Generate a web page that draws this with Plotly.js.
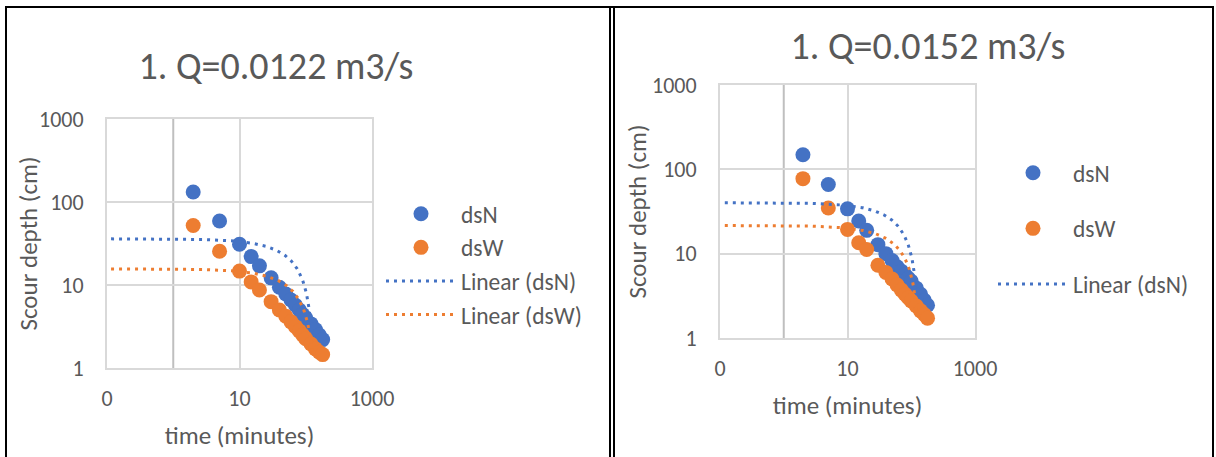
<!DOCTYPE html>
<html><head><meta charset="utf-8">
<script src="https://cdn.plot.ly/plotly-3.0.1.min.js"></script>
<style>
html,body{margin:0;padding:0;background:#fff;width:1216px;height:457px;overflow:hidden}
.chart{position:absolute;top:0;width:608px;height:457px}
.b{position:absolute;background:#000;pointer-events:none}
</style></head><body>
<div id="c1" class="chart" style="left:0"></div>
<div id="c2" class="chart" style="left:608px"></div>
<div class="b" style="left:5px;top:6px;width:1209px;height:2px"></div>
<div class="b" style="left:5px;top:6px;width:2px;height:451px"></div>
<div class="b" style="left:609px;top:6px;width:2px;height:451px"></div>
<div class="b" style="left:613px;top:6px;width:1.5px;height:451px"></div>
<div class="b" style="left:1212px;top:6px;width:2px;height:451px"></div>
<script>
// time (minutes); the t=0 reading (depth 0) cannot be shown on log axes but enters the trendlines
const timeMin = [0, 2, 5, 10, 15, 20, 30, 40, 50, 60, 70, 80, 90, 100, 120, 140, 160, 180];
// Chart 1: Q = 0.0122 m3/s
const dsN_1 = [0, 132, 59, 31, 22, 17, 12.2, 9.4, 7.8, 6.6, 5.7, 5.0, 4.4, 4.0, 3.4, 2.9, 2.5, 2.2];
const dsW_1 = [0, 52, 25.5, 14.7, 10.9, 8.7, 6.3, 5.0, 4.2, 3.6, 3.15, 2.8, 2.5, 2.25, 1.95, 1.7, 1.55, 1.45];
// Chart 2: Q = 0.0152 m3/s
const dsN_2 = [0, 149, 66, 34, 24.4, 18.9, 12.8, 10.0, 8.3, 7.0, 6.2, 5.6, 5.1, 4.7, 3.9, 3.3, 2.8, 2.45];
const dsW_2 = [0, 77.5, 34.8, 19.4, 13.5, 11.2, 7.3, 6.0, 5.0, 4.25, 3.7, 3.3, 3.0, 2.75, 2.4, 2.1, 1.9, 1.72];

const titles = ["1. Q=0.0122 m3/s", "1. Q=0.0152 m3/s"];
const xTitle = "time (minutes)";
const yTitle = "Scour depth (cm)";
const xTickVals = [0.1, 10, 1000];
const xTickText = ["0", "10", "1000"];
const yTickVals = [1, 10, 100, 1000];
const yTickText = ["1", "10", "100", "1000"];

const BLUE = "#4472C4", ORANGE = "#ED7D31", TXT = "#595959", GRID = "#D9D9D9", AXL = "#BFBFBF";
const FONT = "Carlito, Calibri, Lato, sans-serif";

function linFit(x, y) {
  const n = x.length;
  const mx = x.reduce((s, v) => s + v, 0) / n;
  const my = y.reduce((s, v) => s + v, 0) / n;
  let sxy = 0, sxx = 0;
  for (let i = 0; i < n; i++) { sxy += (x[i] - mx) * (y[i] - my); sxx += (x[i] - mx) ** 2; }
  const b = sxy / sxx;
  return { a: my - b * mx, b: b };
}
// Excel-like linear trendline on log axes: sampled across the shown range,
// stopping (like Excel's last drawn sample) before it plunges to zero
function trend(x, y) {
  const f = linFit(x, y);
  const xmax = Math.max(...x);
  const stopAt = f.b < 0 ? (0.9 * f.a) / -f.b : Infinity;
  const end = Math.min(xmax, stopAt);
  const lo = Math.log10(0.05), hi = Math.log10(end);
  const xs = [], ys = [];
  const N = 300;
  for (let i = 0; i <= N; i++) {
    const t = Math.pow(10, lo + (hi - lo) * i / N);
    xs.push(t); ys.push(f.a + f.b * t);
  }
  return { x: xs, y: ys };
}
function positive(x, y) { // points drawable on log axes
  const xs = [], ys = [];
  x.forEach((v, i) => { if (v > 0 && y[i] > 0) { xs.push(v); ys.push(y[i]); } });
  return { x: xs, y: ys };
}

function makeChart(id, title, dsN, dsW, opt) {
  const pN = positive(timeMin, dsN), pW = positive(timeMin, dsW);
  const tN = trend(timeMin, dsN), tW = trend(timeMin, dsW);
  const mk = (c) => ({ size: 15, color: c, line: { width: 0 } });
  const traces = [
    { x: pN.x, y: pN.y, name: "dsN", mode: "markers", type: "scatter", marker: mk(BLUE), legendgroup: "a" },
    { x: pW.x, y: pW.y, name: "dsW", mode: "markers", type: "scatter", marker: mk(ORANGE), legendgroup: "b" },
    { x: tN.x, y: tN.y, name: "Linear (dsN)", mode: "lines", type: "scatter", line: { color: BLUE, width: 3, dash: "3px,5px" }, legendgroup: "c" },
    { x: tW.x, y: tW.y, name: "Linear (dsW)", mode: "lines", type: "scatter", line: { color: ORANGE, width: 3, dash: "3px,5px" }, legendgroup: "d", showlegend: opt.showW }
  ];
  const axisCommon = {
    type: "log", showgrid: true, gridcolor: GRID, gridwidth: 2, zeroline: false,
    showline: true, mirror: true, linecolor: GRID, linewidth: 2, ticks: "",
    tickfont: { family: FONT, size: 22, color: TXT }, fixedrange: true
  };
  const layout = {
    width: 608, height: 457, paper_bgcolor: "rgba(0,0,0,0)", plot_bgcolor: "#fff",
    margin: opt.margin,
    font: { family: FONT, color: TXT },
    title: { text: title, font: { family: FONT, size: 38, color: TXT }, xref: "container", yref: "container",
             x: opt.titleX, y: opt.titleY, xanchor: "center", yanchor: "middle" },
    xaxis: Object.assign({}, axisCommon, { range: [-1, 3], tickvals: xTickVals, ticktext: xTickText, ticklabelstandoff: 10,
             title: { text: xTitle, font: { family: FONT, size: 25, color: TXT }, standoff: 15 } }),
    yaxis: Object.assign({}, axisCommon, { range: [0, 3], tickvals: yTickVals, ticktext: yTickText, ticklabelstandoff: 17 }),
    annotations: [{ text: yTitle, xref: "paper", yref: "paper", x: opt.yTitleX, y: 0.5, xanchor: "center", yanchor: "middle",
                    textangle: -90, showarrow: false, font: { family: FONT, size: 25, color: TXT } }],
    shapes: [{ type: "line", xref: "x", yref: "paper", x0: 1, x1: 1, y0: 0, y1: 1, line: { color: AXL, width: 2 }, layer: "below" }],
    showlegend: true,
    legend: { xref: "container", yref: "container", x: opt.legX, y: opt.legY, xanchor: "left", yanchor: "top",
              font: { family: FONT, size: 23.5, color: TXT }, itemwidth: 70, tracegroupgap: opt.gap, bgcolor: "rgba(0,0,0,0)" }
  };
  Plotly.newPlot(id, traces, layout, { displayModeBar: false, staticPlot: true });
}

makeChart("c1", titles[0], dsN_1, dsW_1, {
  margin: { l: 107, r: 236, t: 119, b: 89, pad: 0 }, titleX: 276 / 608, titleY: 1 - 66 / 457,
  legX: 381 / 608, legY: 1 - 192 / 457, gap: 0, showW: true, yTitleX: (28 - 107) / 265
});
makeChart("c2", titles[1], dsN_2, dsW_2, {
  margin: { l: 112, r: 241, t: 85, b: 119, pad: 0 }, titleX: 320 / 608, titleY: 1 - 46 / 457,
  legX: 385 / 608, legY: 1 - 151 / 457, gap: 22, showW: false, yTitleX: (29 - 112) / 255
});
</script>
</body></html>
